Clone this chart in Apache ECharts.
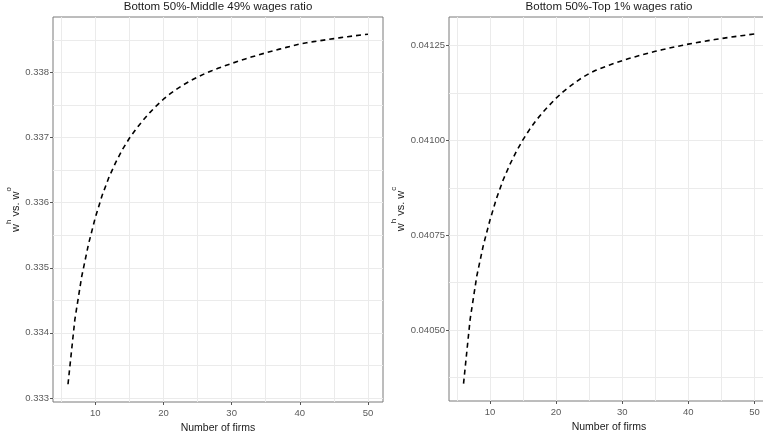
<!DOCTYPE html>
<html>
<head>
<meta charset="utf-8">
<script src="https://cdn.jsdelivr.net/npm/echarts@6.0.0/dist/echarts.min.js"></script>
<style>
  html, body { margin: 0; padding: 0; background: #fff; }
  #chart { width: 763px; height: 435px; }
</style>
</head>
<body>
<div id="chart"></div>
<script>
  // number of firms on the x axis
  const firms = [6, 7, 8, 9, 10, 11, 12, 13, 14, 15, 16, 17, 18, 19, 20, 21, 22, 23, 24, 25, 26, 27, 28,
    29, 30, 31, 32, 33, 34, 35, 36, 37, 38, 39, 40, 41, 42, 43, 44, 45, 46, 47, 48, 49, 50]

  // bottom 50% vs middle 49%
  const middleRatio = [0.33321, 0.33420, 0.33486, 0.33536, 0.33577, 0.33611, 0.33639, 0.33662, 0.33682,
    0.33699, 0.337135, 0.337265, 0.337385, 0.337493, 0.33759, 0.337675, 0.33775, 0.337816, 0.337876,
    0.33793, 0.33798, 0.338025, 0.338066, 0.338104, 0.33814, 0.338176, 0.33821, 0.338242, 0.338273,
    0.338303, 0.338332, 0.33836, 0.338387, 0.338414, 0.33844, 0.338458, 0.338475, 0.338491, 0.338507,
    0.338522, 0.338537, 0.338551, 0.338565, 0.338578, 0.33859]

  // bottom 50% vs top 1%
  const topRatio = [0.040359, 0.040529, 0.040642, 0.040724, 0.04079, 0.040848, 0.040896, 0.040936,
    0.040971, 0.041002, 0.041029, 0.041053, 0.041074, 0.041093, 0.041111, 0.041127, 0.041141, 0.041154,
    0.041166, 0.041176, 0.0411845, 0.0411915, 0.041198, 0.041204, 0.04121, 0.0412155, 0.0412205,
    0.0412255, 0.04123, 0.0412345, 0.0412385, 0.0412425, 0.0412465, 0.04125, 0.0412535, 0.0412567,
    0.0412597, 0.0412627, 0.0412655, 0.0412682, 0.0412708, 0.0412733, 0.0412757, 0.041278, 0.0412802]

  const xTicks = [10, 20, 30, 40, 50]
  const xGridLines = [5, 10, 15, 20, 25, 30, 35, 40, 45, 50]
  const leftTicks = [0.333, 0.334, 0.335, 0.336, 0.337, 0.338]
  const leftGridLines = [0.333, 0.3335, 0.334, 0.3345, 0.335, 0.3355, 0.336, 0.3365, 0.337, 0.3375, 0.338, 0.3385]
  const rightTicks = [0.0405, 0.04075, 0.041, 0.04125]
  const rightGridLines = [0.040375, 0.0405, 0.040625, 0.04075, 0.040875, 0.041, 0.041125, 0.04125]

  const xMin = 3.8
  const xMax = 52.2
  const font = 'Liberation Sans, Arial, sans-serif'
  const labelColor = '#5a5a5a'

  // panel grid lines drawn through the axes' own scales, kept under the data line
  const gridSeries = (idx, ys, yMin, yMax) => ({
    type: 'line',
    xAxisIndex: idx,
    yAxisIndex: idx,
    data: [],
    z: 1,
    silent: true,
    markLine: {
      z: 1,
      silent: true,
      symbol: 'none',
      animation: false,
      label: {show: false},
      lineStyle: {color: '#ebebeb', type: 'solid', width: 1},
      data: [
        ...xGridLines.map(v => [{coord: [v, yMin]}, {coord: [v, yMax]}]),
        ...ys.map(v => [{coord: [xMin, v]}, {coord: [xMax, v]}]),
      ],
    },
  })

  const dataSeries = (idx, values) => ({
    type: 'line',
    xAxisIndex: idx,
    yAxisIndex: idx,
    data: firms.map((f, i) => [f, values[i]]),
    showSymbol: false,
    smooth: false,
    z: 10,
    lineStyle: {color: '#000', width: 1.6, type: [5, 4]},
  })

  const xAxis = (idx) => ({
    type: 'value',
    gridIndex: idx,
    min: xMin,
    max: xMax,
    name: 'Number of firms',
    nameLocation: 'middle',
    nameGap: 16,
    nameTextStyle: {fontFamily: font, fontSize: 10.5, color: '#1a1a1a'},
    axisLine: {show: false},
    splitLine: {show: false},
    axisTick: {show: true, customValues: xTicks, length: 3, lineStyle: {color: '#555'}},
    axisLabel: {customValues: xTicks, fontFamily: font, fontSize: 9.5, color: labelColor, margin: 6},
  })

  const yAxis = (idx, min, max, ticks, sup, fmt) => ({
    type: 'value',
    gridIndex: idx,
    min,
    max,
    name: `{b|w}{s|h}{b| vs. w}{s|${sup}}`,
    nameLocation: 'middle',
    nameRotate: 90,
    nameGap: idx === 0 ? 27 : 40,
    nameTextStyle: {
      fontFamily: font,
      color: '#1a1a1a',
      rich: {
        b: {fontFamily: font, fontSize: 11, color: '#1a1a1a', verticalAlign: 'bottom', lineHeight: 17},
        s: {fontFamily: font, fontSize: 8, color: '#1a1a1a', verticalAlign: 'top', lineHeight: 17},
      },
    },
    axisLine: {show: false},
    splitLine: {show: false},
    axisTick: {show: true, customValues: ticks, length: 3, lineStyle: {color: '#555'}},
    axisLabel: {customValues: ticks, fontFamily: font, fontSize: 9.5, color: labelColor, margin: 4, formatter: fmt},
  })

  const chart = echarts.init(document.getElementById('chart'), null, {renderer: 'canvas'})

  chart.setOption({
    animation: false,
    backgroundColor: '#fff',
    title: [
      {text: 'Bottom 50%-Middle 49% wages ratio', left: 218, top: 1, textAlign: 'center', padding: 0,
        textStyle: {fontFamily: font, fontSize: 11.5, fontWeight: 'normal', color: '#1a1a1a'}},
      {text: 'Bottom 50%-Top 1% wages ratio', left: 609, top: 1, textAlign: 'center', padding: 0,
        textStyle: {fontFamily: font, fontSize: 11.5, fontWeight: 'normal', color: '#1a1a1a'}},
    ],
    grid: [
      {left: 53, width: 330, top: 17, bottom: 33, show: true, borderColor: '#7a7a7a', borderWidth: 1,
        containLabel: false, outerBoundsMode: 'none'},
      {left: 449, width: 320, top: 17, bottom: 34, show: true, borderColor: '#7a7a7a', borderWidth: 1,
        containLabel: false, outerBoundsMode: 'none'},
    ],
    xAxis: [xAxis(0), xAxis(1)],
    yAxis: [
      yAxis(0, 0.332937, 0.338854, leftTicks, 'o', v => v.toFixed(3)),
      yAxis(1, 0.040313, 0.041325, rightTicks, 'c', v => v.toFixed(5)),
    ],
    series: [
      gridSeries(0, leftGridLines, 0.332937, 0.338854),
      dataSeries(0, middleRatio),
      gridSeries(1, rightGridLines, 0.040313, 0.041325),
      dataSeries(1, topRatio),
    ],
  })
</script>
</body>
</html>
